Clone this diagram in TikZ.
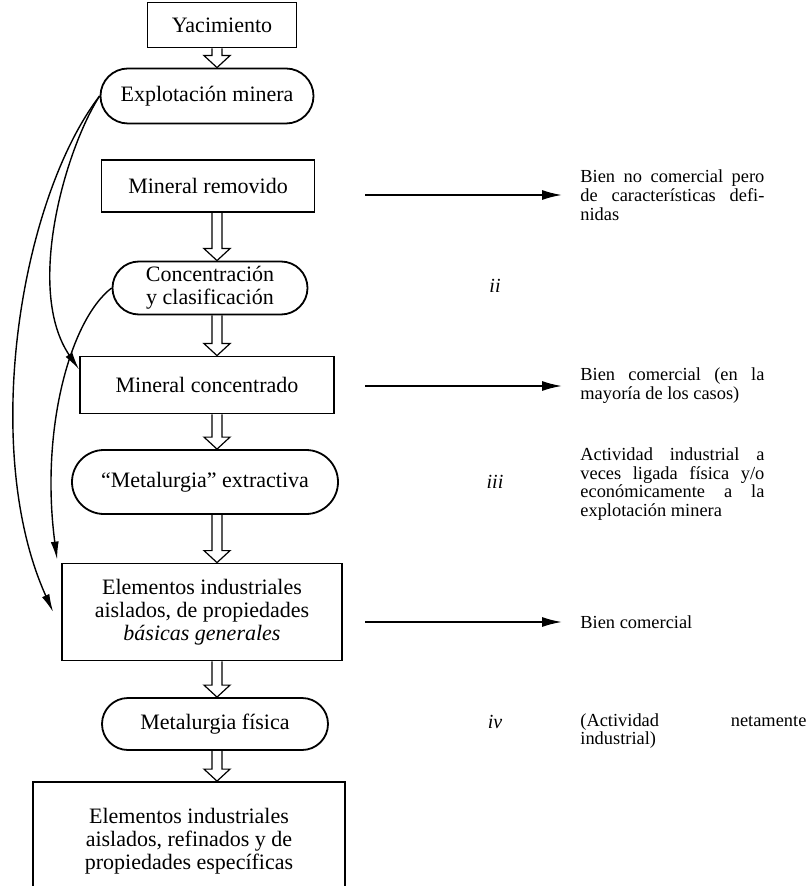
\documentclass[tikz,border=0pt]{standalone}
\usepackage{fontspec}
\setmainfont{Liberation Serif}
\usetikzlibrary{positioning,arrows.meta,shapes.misc,calc}

% flecha hueca vertical entre dos etapas (sobre la columna col)
\newcommand{\hollowarrow}[2]{%
	\draw[hollow] let \p1=(col |- #1.south), \p2=(col |- #2.north) in
		(\x1-2.5pt,\y1) -- (\x1-2.5pt,\y2+6pt) -- (\x1-6.5pt,\y2+6pt) -- (\x2,\y2)
		-- (\x1+6.5pt,\y2+6pt) -- (\x1+2.5pt,\y2+6pt) -- (\x1+2.5pt,\y1);%
}

\begin{document}
\begin{tikzpicture}[
	x=0.5pt, y=-0.5pt,
	font=\fontsize{11}{11.5}\selectfont,
	box/.style={
		draw,
		line width=0.9pt,
		inner sep=0pt,
		align=center,
	},
	stadium/.style={
		draw,
		line width=0.9pt,
		rounded rectangle,
		inner sep=0pt,
		align=center,
	},
	note/.style={
		anchor=west,
		align=justify,
		text width=92pt,
		inner sep=0pt,
		font=\fontsize{9.2}{9.4}\selectfont,
	},
	roman/.style={font=\fontsize{10}{12}\selectfont\itshape},
	arr/.style={-{Latex[length=10pt,width=5pt]}, line width=0.9pt},
	curvearr/.style={-{Latex[length=9pt,width=4pt]}, line width=0.7pt},
	hollow/.style={line width=0.6pt},
]

\useasboundingbox (0,0) rectangle (810,886);
\clip (0,0) rectangle (810,886);

% Etapas del proceso
\node[box, minimum width=74.5pt, minimum height=22.5pt] (yac) at (222,25) {Yacimiento};
\node[stadium, minimum width=106.5pt, minimum height=27.5pt] (explot) at (207,96) {Explotación minera};
\node[box, minimum width=106.5pt, minimum height=26pt] (mrem) at (208,186) {Mineral removido};
\node[stadium, minimum width=97.5pt, minimum height=26.5pt] (conc) at (210,288) {Concentración\\y clasificación};
\node[box, minimum width=127pt, minimum height=28.5pt] (mconc) at (207,385) {Mineral concentrado};
\node[stadium, minimum width=133pt, minimum height=32pt] (metext) at (205,482) {“Metalurgia” extractiva};
\node[box, minimum width=140pt, minimum height=48.5pt] (elem1) at (202,612) {Elementos industriales\\aislados, de propiedades\\\textit{básicas generales}};
\node[stadium, minimum width=113pt, minimum height=26pt] (metfis) at (215,724) {Metalurgia física};
\node[box, minimum width=156pt, minimum height=59pt] (elem2) at (189,841) {Elementos industriales\\aislados, refinados y de\\propiedades específicas};

% Flechas huecas de la cadena principal
\coordinate (col) at (217,0);
\hollowarrow{yac}{explot}
\hollowarrow{mrem}{conc}
\hollowarrow{conc}{mconc}
\hollowarrow{mconc}{metext}
\hollowarrow{metext}{elem1}
\hollowarrow{elem1}{metfis}
\hollowarrow{metfis}{elem2}

% Notas a la derecha
\node[note] (nocom) at (580,195) {Bien no comercial pero\linebreak de características defi-\linebreak nidas};
\node[note] (com1) at (580,386) {Bien comercial (en la\linebreak mayoría de los casos)};
\node[note] (activ) at (580,484) {Actividad industrial a\linebreak veces ligada física y/o\linebreak económicamente a la\linebreak explotación minera};
\node[note] (com2) at (580,622) {Bien comercial};
\node[note, text width=113pt] (indus) at (580,731) {(Actividad netamente\linebreak industrial)};

\node[roman] (ii) at (495,286) {ii};
\node[roman] (iii) at (495,482) {iii};
\node[roman] (iv) at (495,722) {iv};

% Flechas hacia las notas
\coordinate (bus) at (365,0);
\draw[arr] (bus |- nocom.west) -- ([xshift=-9pt]nocom.west);
\draw[arr] (bus |- com1.west) -- ([xshift=-9pt]com1.west);
\draw[arr] (bus |- com2.west) -- ([xshift=-9pt]com2.west);

% Atajos curvos por la izquierda
\draw[curvearr] (explot.west) .. controls (20,200) and (-20,450) .. ([xshift=-4pt]elem1.west);
\draw[curvearr] (explot.west) .. controls (65,150) and (25,290) .. ([yshift=-7pt]mconc.north west);
\draw[curvearr] (conc.west) .. controls (70,320) and (40,430) .. ([xshift=-2pt,yshift=1.5pt]elem1.north west);

\end{tikzpicture}
\end{document}
